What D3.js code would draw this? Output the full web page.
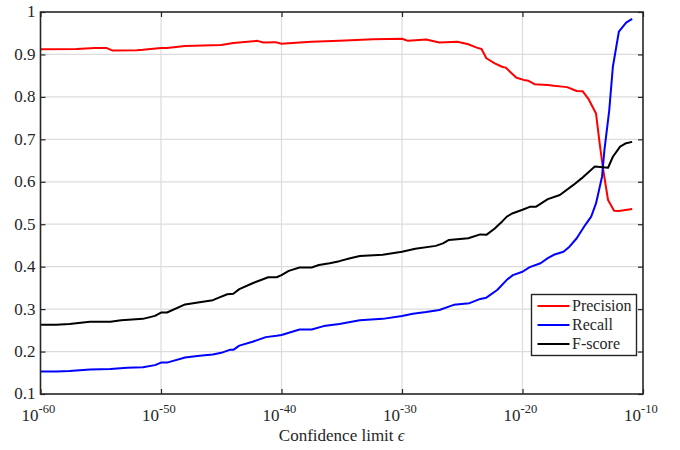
<!DOCTYPE html>
<html>
<head>
<meta charset="utf-8">
<script src="https://cdn.jsdelivr.net/npm/d3@7"></script>
<style>
    body { margin: 0; background: #fff; }
    svg text, svg tspan { font-family: "Liberation Serif", "Times New Roman", serif; fill: #262626; }
</style>
</head>
<body>
<svg id="chart" width="680" height="450"></svg>
<script>
    // x values are exponents of the confidence limit (10^x)
    const precisionData = [
        [-60, 0.912], [-57, 0.913], [-55.5, 0.915], [-54.5, 0.915], [-54, 0.909], [-52, 0.910],
        [-51.5, 0.911], [-50, 0.915], [-49.5, 0.915], [-48, 0.920], [-45, 0.922], [-44, 0.927],
        [-42, 0.932], [-41.5, 0.928], [-40.5, 0.929], [-40, 0.925], [-38.5, 0.928], [-37.5, 0.930],
        [-35.2, 0.932], [-32.4, 0.936], [-30, 0.937], [-29.5, 0.932], [-28, 0.935], [-26.9, 0.928],
        [-25.4, 0.930], [-24.5, 0.924], [-23.8, 0.916], [-23.4, 0.913], [-23, 0.891], [-22.3, 0.879],
        [-21.7, 0.871], [-21.4, 0.869], [-20.5, 0.845], [-19.9, 0.840], [-19.5, 0.838], [-19, 0.830],
        [-17.9, 0.828], [-17.4, 0.826], [-16.3, 0.823], [-15.5, 0.814], [-15, 0.813], [-14.5, 0.794],
        [-13.9, 0.761], [-13.6, 0.691], [-13.3, 0.628], [-12.9, 0.557], [-12.4, 0.532], [-12, 0.531],
        [-10.9, 0.536]
    ];
    const recallData = [
        [-60, 0.153], [-58.7, 0.153], [-57.6, 0.154], [-55.9, 0.158], [-54.2, 0.159], [-52.8, 0.162],
        [-51.5, 0.163], [-50.5, 0.168], [-50, 0.174], [-49.5, 0.174], [-48, 0.186], [-46.8, 0.190],
        [-45.7, 0.193], [-45, 0.197], [-44.3, 0.204], [-44, 0.204], [-43.5, 0.214], [-42.4, 0.223],
        [-41.3, 0.234], [-40.4, 0.237], [-40, 0.239], [-38.5, 0.252], [-37.5, 0.252], [-36.5, 0.260],
        [-35.2, 0.265], [-33.5, 0.274], [-31.6, 0.277], [-30, 0.284], [-29.1, 0.289], [-28, 0.293],
        [-26.9, 0.298], [-26, 0.307], [-25.7, 0.310], [-24.4, 0.314], [-23.5, 0.324], [-23, 0.327],
        [-22.1, 0.345], [-21.3, 0.369], [-20.8, 0.380], [-20, 0.388], [-19.4, 0.399], [-18.5, 0.408],
        [-17.9, 0.420], [-17.4, 0.428], [-16.6, 0.435], [-16.1, 0.447], [-15.5, 0.467], [-14.8, 0.498],
        [-14.3, 0.518], [-13.9, 0.549], [-13.4, 0.612], [-13.2, 0.675], [-12.8, 0.769], [-12.5, 0.871],
        [-12, 0.954], [-11.4, 0.975], [-10.9, 0.984]
    ];
    const fscoreData = [
        [-60, 0.263], [-58.7, 0.263], [-57.6, 0.265], [-55.9, 0.270], [-54.2, 0.270], [-53.3, 0.274],
        [-51.5, 0.277], [-50.5, 0.284], [-50, 0.292], [-49.5, 0.292], [-48, 0.311], [-46.8, 0.316],
        [-45.7, 0.321], [-45.2, 0.327], [-44.5, 0.335], [-44, 0.336], [-43.5, 0.347], [-42.4, 0.361],
        [-41.1, 0.375], [-40.4, 0.375], [-40, 0.380], [-39.4, 0.390], [-38.5, 0.398], [-37.5, 0.398],
        [-36.9, 0.404], [-36, 0.408], [-35.2, 0.413], [-34.3, 0.420], [-33.5, 0.425], [-31.6, 0.428],
        [-30, 0.435], [-28.9, 0.442], [-27.2, 0.449], [-26.6, 0.455], [-26.1, 0.463], [-24.5, 0.467],
        [-23.5, 0.476], [-23, 0.475], [-22.3, 0.490], [-22, 0.498], [-21.7, 0.506], [-21.3, 0.518],
        [-20.8, 0.526], [-20, 0.534], [-19.4, 0.541], [-18.9, 0.541], [-17.9, 0.559], [-16.9, 0.569],
        [-15.8, 0.592], [-15.1, 0.608], [-14, 0.636], [-12.9, 0.633], [-12.5, 0.659], [-11.9, 0.683],
        [-11.4, 0.691], [-10.9, 0.694]
    ];
    const seriesNames = ["Precision", "Recall", "F-score"];
    const seriesColors = ["#ff0000", "#0000ff", "#000000"];
    const xTickExps = [-60, -50, -40, -30, -20, -10];
    const yTicks = [0.1, 0.2, 0.3, 0.4, 0.5, 0.6, 0.7, 0.8, 0.9, 1];

    const margin = { left: 40.5, right: 37, top: 12, bottom: 56 };
    const width = 680, height = 450;
    const svg = d3.select("#chart");

    let x = d3.scaleLog()
        .domain([1e-60, 1e-10])
        .range([margin.left, width - margin.right]);
    let y = d3.scaleLinear()
        .domain([0.1, 1])
        .range([height - margin.bottom, margin.top]);

    //grid
    svg.append("g").selectAll("line")
        .data(xTickExps.slice(1, -1))
        .enter().append("line")
        .attr("x1", d => x(Math.pow(10, d))).attr("x2", d => x(Math.pow(10, d)))
        .attr("y1", y(0.1)).attr("y2", y(1))
        .attr("stroke", "#dcdcdc").attr("stroke-width", 1.2);
    svg.append("g").selectAll("line")
        .data(yTicks.slice(1, -1))
        .enter().append("line")
        .attr("y1", d => y(d)).attr("y2", d => y(d))
        .attr("x1", x(1e-60)).attr("x2", x(1e-10))
        .attr("stroke", "#dcdcdc").attr("stroke-width", 1.2);

    //curves
    let line = d3.line()
        .x(d => x(Math.pow(10, d[0])))
        .y(d => y(d[1]));
    [precisionData, recallData, fscoreData].forEach((data, i) => {
        svg.append("path")
            .datum(data)
            .attr("d", line)
            .attr("fill", "none")
            .attr("stroke", seriesColors[i])
            .attr("stroke-width", 2)
            .attr("stroke-linejoin", "round");
    });

    //axes (ticks inside, box)
    const axisColor = "#262626";
    const xTickVals = xTickExps.map(e => Math.pow(10, e));
    svg.append("g")
        .attr("transform", `translate(0,${y(0.1)})`)
        .call(d3.axisBottom(x).tickValues(xTickVals).tickSize(-5).tickFormat(""))
        .call(g => g.select(".domain").remove());
    svg.append("g")
        .attr("transform", `translate(0,${y(1)})`)
        .call(d3.axisTop(x).tickValues(xTickVals).tickSize(-5).tickFormat(""))
        .call(g => g.select(".domain").remove());
    svg.append("g")
        .attr("transform", `translate(${x(1e-60)},0)`)
        .call(d3.axisLeft(y).tickValues(yTicks).tickSize(-5).tickFormat(""))
        .call(g => g.select(".domain").remove());
    svg.append("g")
        .attr("transform", `translate(${x(1e-10)},0)`)
        .call(d3.axisRight(y).tickValues(yTicks).tickSize(-5).tickFormat(""))
        .call(g => g.select(".domain").remove());
    svg.selectAll(".tick line").attr("stroke", axisColor).attr("stroke-width", 1.2);

    svg.append("rect")
        .attr("x", x(1e-60)).attr("y", y(1))
        .attr("width", x(1e-10) - x(1e-60)).attr("height", y(0.1) - y(1))
        .attr("fill", "none").attr("stroke", axisColor).attr("stroke-width", 1.6);

    //tick labels
    svg.append("g").selectAll("text")
        .data(yTicks)
        .enter().append("text")
        .attr("x", x(1e-60) - 5)
        .attr("y", d => y(d))
        .attr("dy", "0.32em")
        .attr("text-anchor", "end")
        .attr("font-size", 17)
        .text(d => d === 1 ? "1" : d3.format(".1f")(d));

    let xl = svg.append("g").selectAll("text")
        .data(xTickExps)
        .enter().append("text")
        .attr("x", d => x(Math.pow(10, d)) - 19)
        .attr("y", 421)
        .attr("font-size", 17);
    xl.append("tspan").text("10");
    xl.append("tspan")
        .attr("dy", -8)
        .attr("font-size", 12.5)
        .text(d => d);

    let xlabel = svg.append("text")
        .attr("x", (x(1e-60) + x(1e-10)) / 2)
        .attr("y", 441)
        .attr("text-anchor", "middle")
        .attr("font-size", 17);
    xlabel.append("tspan").text("Confidence limit ");
    xlabel.append("tspan").attr("font-style", "italic").text("ϵ");

    //legend
    let legend = svg.append("g");
    legend.append("rect")
        .attr("x", 531.5).attr("y", 294.5)
        .attr("width", 105).attr("height", 61)
        .attr("fill", "#fff").attr("stroke", axisColor).attr("stroke-width", 1.4);
    seriesNames.forEach((name, i) => {
        let ly = 306 + i * 19;
        legend.append("line")
            .attr("x1", 537.5).attr("x2", 569.5)
            .attr("y1", ly).attr("y2", ly)
            .attr("stroke", seriesColors[i]).attr("stroke-width", 2);
        legend.append("text")
            .attr("x", 572).attr("y", ly)
            .attr("dy", "0.33em")
            .attr("font-size", 16)
            .text(name);
    });
</script>
</body>
</html>
